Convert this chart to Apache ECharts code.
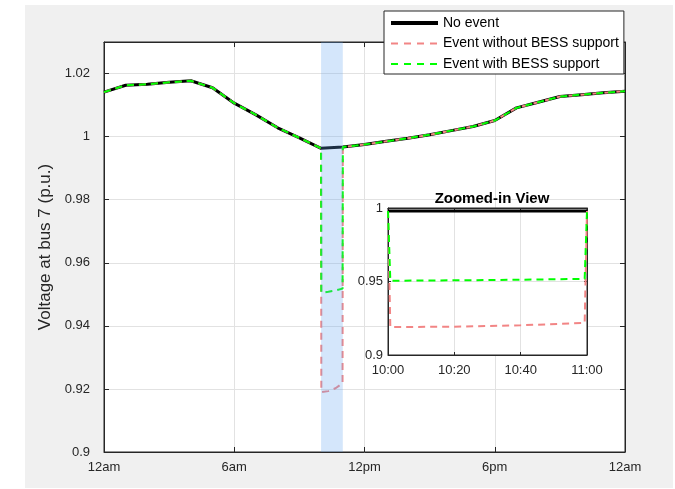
<!DOCTYPE html>
<html>
<head>
<meta charset="utf-8">
<script src="https://cdn.jsdelivr.net/npm/echarts@6/dist/echarts.min.js"></script>
<style>
  html, body { margin: 0; padding: 0; background: #fff; }
  #bg { position: absolute; left: 25px; top: 5px; width: 648px; height: 483px; background: #f0f0f0; }
  #chart { position: absolute; left: 0; top: 0; width: 675px; height: 489px; }
</style>
</head>
<body>
<div id="bg"></div>
<div id="chart"></div>
<script>
// hourly voltage at bus 7, no event
const hours = [0, 1, 2, 3, 4, 5, 6, 7, 8, 9, 10, 11, 12, 13, 14, 15, 16, 17, 18, 19, 20, 21, 22, 23, 24];
const noEvent = [1.0141, 1.0163, 1.0166, 1.0172, 1.0177, 1.0155, 1.0106, 1.0069, 1.0028, 0.9996, 0.9963, 0.9967,
                 0.9975, 0.9985, 0.9995, 1.0006, 1.0019, 1.0032, 1.0051, 1.0091, 1.0109, 1.0127, 1.0133, 1.0139, 1.0144];

// zoomed-in window 10:00 - 11:00 (minutes after 10:00)
const insetMinutes = [0, 0.7, 20, 40, 59.3, 60];
const insetNoEvent = [0.998, 0.998, 0.998, 0.998, 0.998, 0.998];
const insetWithout = [0.998, 0.919, 0.9193, 0.9202, 0.9218, 0.998];
const insetWith = [0.998, 0.9505, 0.9508, 0.9512, 0.9518, 0.998];

const xTickLabels = ['12am', '6am', '12pm', '6pm', '12am'];
const insetTickLabels = ['10:00', '10:20', '10:40', '11:00'];
const eventBand = [[10, 11]];

const FONT = 'Arial, "Liberation Sans", Helvetica, sans-serif';
const AX = '#262626';
const GRIDC = '#e2e2e2';
const RED = '#f28585';
const GREEN = '#00ff00';

function eventLine(vals) {
    let pts = [];
    hours.forEach((h, i) => { if (h <= eventBand[0][0]) pts.push([h, noEvent[i]]); });
    for (let k = 1; k < insetMinutes.length - 1; k++) {
        pts.push([eventBand[0][0] + insetMinutes[k] / 60, vals[k]]);
    }
    hours.forEach((h, i) => { if (h >= eventBand[0][1]) pts.push([h, noEvent[i]]); });
    return pts;
}

function pairs(xs, ys) {
    return xs.map((x, i) => [x, ys[i]]);
}

let myChart = echarts.init(document.getElementById('chart'), null, {renderer: 'canvas'});

let labelStyle = {color: AX, fontSize: 13, fontFamily: FONT};

let option = {
    animation: false,
    backgroundColor: 'transparent',
    title: {
        text: 'Zoomed-in View',
        left: 487,
        top: 186,
        textAlign: 'center',
        zlevel: 1,
        textStyle: {fontSize: 15, fontWeight: 'bold', color: '#000', fontFamily: FONT}
    },
    legend: {
        orient: 'vertical',
        left: 384,
        top: 11,
        padding: [5, 5, 3, 5],
        itemWidth: 47,
        itemHeight: 14,
        itemGap: 6.5,
        backgroundColor: '#fff',
        borderColor: AX,
        borderWidth: 1,
        borderRadius: 0,
        itemStyle: {opacity: 0},
        data: [
            {name: 'No event', lineStyle: {width: 4, color: '#000'}},
            {name: 'Event without BESS support', lineStyle: {width: 2, color: RED, type: [7, 6]}},
            {name: 'Event with BESS support', lineStyle: {width: 2, color: GREEN, type: [7, 6]}}
        ],
        textStyle: {fontSize: 14, color: '#000', fontFamily: FONT}
    },
    grid: [
        {left: 104, top: 42, width: 521, height: 410, show: true, backgroundColor: '#fff',
         borderColor: AX, borderWidth: 1, outerBoundsMode: 'none'},
        {left: 388, top: 208, width: 199, height: 147, show: true, backgroundColor: '#fff',
         borderColor: AX, borderWidth: 1, zlevel: 1, outerBoundsMode: 'none'}
    ],
    xAxis: [
        {
            type: 'value', gridIndex: 0, min: 0, max: 24, interval: 6,
            axisLine: {show: true, onZero: false, lineStyle: {color: AX}},
            axisTick: {show: true, inside: true, length: 5, lineStyle: {color: AX}},
            axisLabel: Object.assign({margin: 9, formatter: v => xTickLabels[Math.round(v / 6)]}, labelStyle),
            splitLine: {show: true, lineStyle: {color: GRIDC}}
        },
        {
            type: 'value', gridIndex: 0, position: 'top', min: 0, max: 24, interval: 6,
            axisLine: {show: true, onZero: false, lineStyle: {color: AX}},
            axisTick: {show: true, inside: true, length: 5, lineStyle: {color: AX}},
            axisLabel: {show: false}, splitLine: {show: false}
        },
        {
            type: 'value', gridIndex: 1, min: 0, max: 60, interval: 20, zlevel: 1,
            axisLine: {show: true, onZero: false, lineStyle: {color: AX}},
            axisTick: {show: true, inside: true, length: 3, lineStyle: {color: AX}},
            axisLabel: Object.assign({margin: 9, formatter: v => insetTickLabels[Math.round(v / 20)]}, labelStyle),
            splitLine: {show: true, lineStyle: {color: GRIDC}}
        },
        {
            type: 'value', gridIndex: 1, position: 'top', min: 0, max: 60, interval: 20, zlevel: 1,
            axisLine: {show: true, onZero: false, lineStyle: {color: AX}},
            axisTick: {show: true, inside: true, length: 3, lineStyle: {color: AX}},
            axisLabel: {show: false}, splitLine: {show: false}
        }
    ],
    yAxis: [
        {
            type: 'value', gridIndex: 0, min: 0.9, max: 1.03, interval: 0.02,
            name: 'Voltage at bus 7 (p.u.)', nameLocation: 'middle', nameGap: 43,
            nameTextStyle: {fontSize: 17, color: AX, fontFamily: FONT},
            axisLine: {show: true, onZero: false, lineStyle: {color: AX}},
            axisTick: {show: true, inside: true, length: 5, lineStyle: {color: AX}},
            axisLabel: Object.assign({margin: 14, showMaxLabel: false}, labelStyle),
            splitLine: {show: true, lineStyle: {color: GRIDC}}
        },
        {
            type: 'value', gridIndex: 0, position: 'right', min: 0.9, max: 1.03, interval: 0.02,
            axisLine: {show: true, onZero: false, lineStyle: {color: AX}},
            axisTick: {show: true, inside: true, length: 5, lineStyle: {color: AX}},
            axisLabel: {show: false}, splitLine: {show: false}
        },
        {
            type: 'value', gridIndex: 1, min: 0.9, max: 1.0, interval: 0.05, zlevel: 1,
            axisLine: {show: true, onZero: false, lineStyle: {color: AX}},
            axisTick: {show: true, inside: true, length: 3, lineStyle: {color: AX}},
            axisLabel: Object.assign({margin: 5}, labelStyle),
            splitLine: {show: true, lineStyle: {color: GRIDC}}
        },
        {
            type: 'value', gridIndex: 1, position: 'right', min: 0.9, max: 1.0, interval: 0.05, zlevel: 1,
            axisLine: {show: true, onZero: false, lineStyle: {color: AX}},
            axisTick: {show: true, inside: true, length: 3, lineStyle: {color: AX}},
            axisLabel: {show: false}, splitLine: {show: false}
        }
    ],
    series: [
        {
            name: 'No event', type: 'line', xAxisIndex: 0, yAxisIndex: 0,
            data: pairs(hours, noEvent), symbol: 'none',
            lineStyle: {color: '#000', width: 3}, itemStyle: {color: '#000'}
        },
        {
            name: 'Event without BESS support', type: 'line', xAxisIndex: 0, yAxisIndex: 0,
            data: eventLine(insetWithout), symbol: 'none',
            lineStyle: {color: RED, width: 2, type: [7, 5]}, itemStyle: {color: RED}
        },
        {
            name: 'Event with BESS support', type: 'line', xAxisIndex: 0, yAxisIndex: 0,
            data: eventLine(insetWith), symbol: 'none',
            lineStyle: {color: GREEN, width: 2, type: [7, 5]}, itemStyle: {color: GREEN}
        },
        {
            name: 'band', type: 'custom', xAxisIndex: 0, yAxisIndex: 0, z: 5,
            data: eventBand, silent: true,
            renderItem: function (params, api) {
                let p0 = api.coord([api.value(0), 1.03]);
                let p1 = api.coord([api.value(1), 0.9]);
                return {
                    type: 'rect',
                    shape: {x: p0[0], y: p0[1], width: p1[0] - p0[0], height: p1[1] - p0[1]},
                    style: {fill: 'rgba(100,165,240,0.28)'}
                };
            }
        },
        {
            name: 'No event', type: 'line', xAxisIndex: 2, yAxisIndex: 2, zlevel: 1,
            data: pairs(insetMinutes, insetNoEvent), symbol: 'none',
            lineStyle: {color: '#000', width: 3}
        },
        {
            name: 'Event without BESS support', type: 'line', xAxisIndex: 2, yAxisIndex: 2, zlevel: 1,
            data: pairs(insetMinutes, insetWithout), symbol: 'none',
            lineStyle: {color: RED, width: 2, type: [7, 5]}
        },
        {
            name: 'Event with BESS support', type: 'line', xAxisIndex: 2, yAxisIndex: 2, zlevel: 1,
            data: pairs(insetMinutes, insetWith), symbol: 'none',
            lineStyle: {color: GREEN, width: 2, type: [7, 5]}
        }
    ]
};
myChart.setOption(option);
</script>
</body>
</html>
